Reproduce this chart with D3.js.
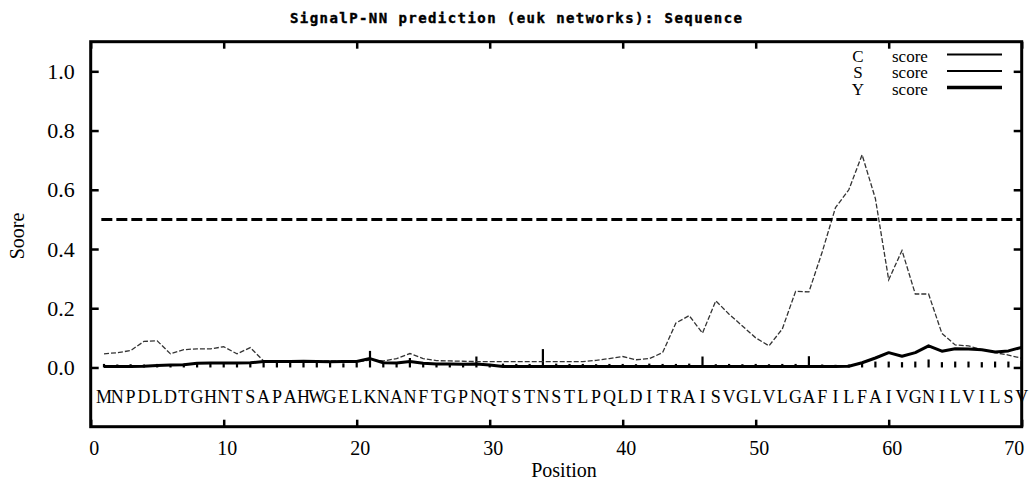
<!DOCTYPE html>
<html>
<head>
<meta charset="utf-8">
<script src="https://cdn.jsdelivr.net/npm/d3@7"></script>
<style>
  body { margin: 0; background: #fff; }
  svg { display: block; }
</style>
</head>
<body>
<div id="chart"></div>
<script>
const title = "SignalP-NN prediction (euk networks): Sequence"
const sequence = "MNPDLDTGHNTSAPAHWGELKNANFTGPNQTSTNSTLPQLDITRAISVGLVLGAFILFAIVGNILVILSV".split("")

// C score (impulses), S score (thin line), Y score (thick line), position 1..70
const cScore = [
    0.012, 0.010, 0.011, 0.010, 0.012, 0.011, 0.013, 0.014, 0.014, 0.015,
    0.014, 0.015, 0.018, 0.016, 0.016, 0.015, 0.016, 0.015, 0.014, 0.016,
    0.056, 0.012, 0.013, 0.032, 0.012, 0.011, 0.012, 0.011, 0.037, 0.012,
    0.013, 0.012, 0.012, 0.062, 0.013, 0.012, 0.012, 0.011, 0.012, 0.012,
    0.011, 0.013, 0.012, 0.012, 0.013, 0.037, 0.011, 0.012, 0.011, 0.012,
    0.011, 0.012, 0.012, 0.038, 0.010, 0.009, 0.010, 0.015, 0.020, 0.020,
    0.018, 0.020, 0.027, 0.018, 0.020, 0.020, 0.018, 0.020, 0.020, 0.022
]
const sScore = [
    0.046, 0.050, 0.057, 0.088, 0.090, 0.046, 0.060, 0.063, 0.063, 0.070,
    0.046, 0.067, 0.022, 0.020, 0.020, 0.020, 0.020, 0.022, 0.020, 0.020,
    0.025, 0.022, 0.030, 0.047, 0.030, 0.023, 0.022, 0.021, 0.020, 0.020,
    0.020, 0.020, 0.020, 0.020, 0.020, 0.020, 0.020, 0.024, 0.030, 0.037,
    0.026, 0.030, 0.050, 0.150, 0.175, 0.116, 0.225, 0.180, 0.140, 0.100,
    0.073, 0.130, 0.257, 0.255, 0.390, 0.540, 0.600, 0.718, 0.570, 0.296,
    0.395, 0.248, 0.248, 0.115, 0.076, 0.073, 0.060, 0.050, 0.042, 0.031
]
const yScore = [
    0.003, 0.003, 0.003, 0.004, 0.007, 0.008, 0.009, 0.014, 0.015, 0.015,
    0.015, 0.016, 0.020, 0.020, 0.020, 0.021, 0.020, 0.019, 0.020, 0.020,
    0.030, 0.016, 0.015, 0.020, 0.014, 0.012, 0.012, 0.011, 0.012, 0.008,
    0.003, 0.003, 0.003, 0.003, 0.003, 0.003, 0.003, 0.003, 0.003, 0.003,
    0.003, 0.003, 0.003, 0.003, 0.003, 0.003, 0.003, 0.003, 0.003, 0.003,
    0.003, 0.003, 0.003, 0.003, 0.003, 0.003, 0.004, 0.016, 0.032, 0.050,
    0.038, 0.050, 0.073, 0.055, 0.063, 0.062, 0.060, 0.052, 0.056, 0.068
]
const threshold = 0.5
const xTicks = [0, 10, 20, 30, 40, 50, 60, 70]
const yTicks = [0.0, 0.2, 0.4, 0.6, 0.8, 1.0]
const legendNames = ["C", "S", "Y"]

const width = 1031,
    height = 485

const plot = { left: 90.7, right: 1021.7, top: 41.7, bottom: 426.7 }

const svg = d3.select("#chart").append("svg")
        .attr("width", width)
        .attr("height", height)

const x = d3.scaleLinear().domain([0, 70]).range([plot.left, plot.right])
const y = d3.scaleLinear().domain([-0.2, 1.1]).range([plot.bottom, plot.top])

const data = sequence.map((aa, i) => ({
    pos: i + 1,
    aa: aa,
    c: cScore[i],
    s: sScore[i],
    y: yScore[i]
}))

const serif = "'Liberation Serif', 'Times New Roman', serif"

// title
svg.append("text")
        .attr("x", 290)
        .attr("y", 22.5)
        .attr("textLength", 452)
        .attr("lengthAdjust", "spacing")
        .attr("stroke", "#000")
        .attr("stroke-width", 0.4)
        .style("font-family", "'DejaVu Sans Mono', monospace")
        .style("font-weight", "bold")
        .style("font-size", "14px")
        .text(title)

// C score impulses
svg.append("g").selectAll("line")
        .data(data)
        .enter()
        .append("line")
        .attr("x1", d => x(d.pos))
        .attr("x2", d => x(d.pos))
        .attr("y1", y(0))
        .attr("y2", d => y(d.c))
        .attr("stroke", "#000")
        .attr("stroke-width", 2.2)

// S score
svg.append("path")
        .datum(data)
        .attr("fill", "none")
        .attr("stroke", "#333")
        .attr("stroke-width", 1.3)
        .attr("stroke-dasharray", "5,2")
        .attr("d", d3.line().x(d => x(d.pos)).y(d => y(d.s)))

// Y score
svg.append("path")
        .datum(data)
        .attr("fill", "none")
        .attr("stroke", "#000")
        .attr("stroke-width", 3)
        .attr("stroke-linejoin", "round")
        .attr("d", d3.line().x(d => x(d.pos)).y(d => y(d.y)))

// threshold
svg.append("line")
        .attr("x1", x(0.8))
        .attr("x2", plot.right)
        .attr("y1", y(threshold))
        .attr("y2", y(threshold))
        .attr("stroke", "#000")
        .attr("stroke-width", 3)
        .attr("stroke-dasharray", "11,4")

// sequence letters
svg.append("g").selectAll("text")
        .data(data)
        .enter()
        .append("text")
        .attr("x", d => x(d.pos))
        .attr("y", 403)
        .attr("text-anchor", "middle")
        .style("font-family", serif)
        .style("font-size", "18px")
        .text(d => d.aa)

// axes: inward ticks on all four sides
const styleAxis = (g, size) => {
    g.select(".domain").remove()
    g.selectAll(".tick line").attr("stroke", "#000").attr("stroke-width", 2.5)
    g.selectAll(".tick text")
            .style("font-family", serif)
            .style("font-size", size)
            .attr("fill", "#000")
}

svg.append("g")
        .attr("transform", `translate(0,${plot.bottom})`)
        .call(d3.axisBottom(x).tickValues(xTicks).tickSize(-7).tickPadding(10).tickFormat(d3.format("d")))
        .call(g => styleAxis(g, "20px"))
        .call(g => g.selectAll(".tick text").attr("dx", d => d === 70 ? -8 : 3).attr("dy", "0.9em"))

svg.append("g")
        .attr("transform", `translate(0,${plot.top})`)
        .call(d3.axisTop(x).tickValues(xTicks).tickSize(-7).tickFormat(""))
        .call(g => styleAxis(g, "20px"))

svg.append("g")
        .attr("transform", `translate(${plot.left},0)`)
        .call(d3.axisLeft(y).tickValues(yTicks).tickSize(-8).tickPadding(16).tickFormat(d3.format(".1f")))
        .call(g => styleAxis(g, "22px"))

svg.append("g")
        .attr("transform", `translate(${plot.right},0)`)
        .call(d3.axisRight(y).tickValues(yTicks).tickSize(-8).tickFormat(""))
        .call(g => styleAxis(g, "22px"))

// frame
svg.append("rect")
        .attr("x", plot.left)
        .attr("y", plot.top)
        .attr("width", plot.right - plot.left)
        .attr("height", plot.bottom - plot.top)
        .attr("fill", "none")
        .attr("stroke", "#000")
        .attr("stroke-width", 3)

// axis titles
svg.append("text")
        .attr("x", 564)
        .attr("y", 477)
        .attr("text-anchor", "middle")
        .style("font-family", serif)
        .style("font-size", "20px")
        .text("Position")

svg.append("text")
        .attr("transform", "translate(24,236) rotate(-90)")
        .attr("text-anchor", "middle")
        .style("font-family", serif)
        .style("font-size", "20px")
        .text("Soore")

// legend
const legend = svg.append("g").selectAll("g")
        .data(legendNames)
        .enter()
        .append("g")
        .attr("transform", (d, i) => `translate(0,${61.5 + i * 16.5})`)

legend.append("text")
        .attr("x", 858)
        .attr("text-anchor", "middle")
        .style("font-family", serif)
        .style("font-size", "17px")
        .text(d => d)

legend.append("text")
        .attr("x", 892)
        .style("font-family", serif)
        .style("font-size", "17px")
        .text("score")

legend.append("line")
        .attr("x1", 947)
        .attr("x2", 1002)
        .attr("y1", -7)
        .attr("y2", -7)
        .attr("stroke", "#000")
        .attr("stroke-width", d => d === "Y" ? 3.5 : 2)
</script>
</body>
</html>
